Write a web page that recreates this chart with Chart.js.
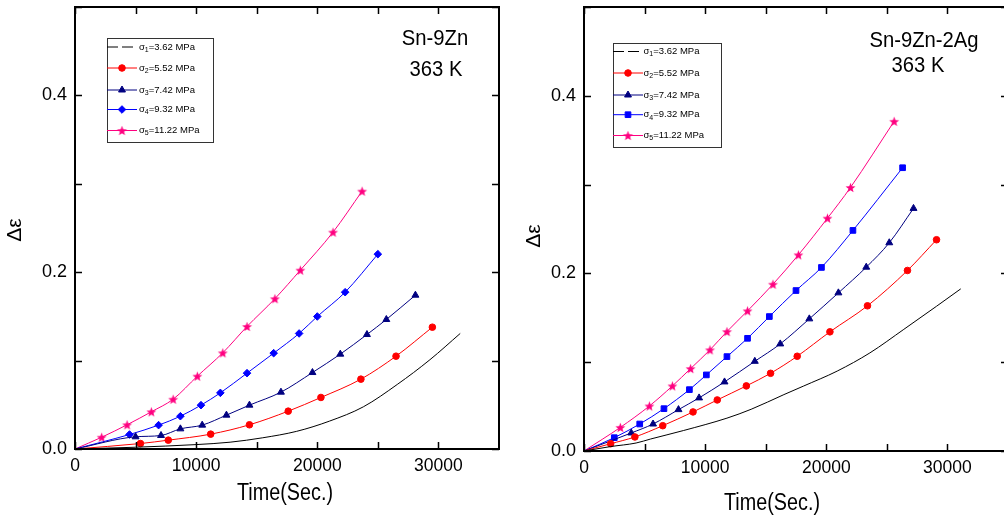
<!DOCTYPE html>
<html><head><meta charset="utf-8">
<script src="https://cdn.jsdelivr.net/npm/chart.js@4/dist/chart.umd.min.js"></script>
<style>
html,body{margin:0;padding:0;background:#fff;overflow:hidden;width:1004px;height:517px;position:relative}
#wl{position:absolute;left:0;top:0;width:500px;height:517px}
#wr{position:absolute;left:500px;top:0;width:520px;height:517px}
canvas{display:block}
</style></head><body>
<div id="wl"><canvas id="cl" width="500" height="517"></canvas></div>
<div id="wr"><canvas id="cr" width="520" height="517"></canvas></div>
<script>
// ---------- text / ticks ----------
const xMajorTicks = [0, 10000, 20000, 30000];
const xTickLabels = ['0', '10000', '20000', '30000'];
const yMajorTicks = [0, 0.2, 0.4];
const yTickLabels = ['0.0', '0.2', '0.4'];
const xTickMarks = [0, 5000, 10000, 15000, 20000, 25000, 30000, 35000];
const yTickMarks = [0, 0.1, 0.2, 0.3, 0.4, 0.5];
const stressValues = ['3.62', '5.52', '7.42', '9.32', '11.22'];
const leftAlloy = 'Sn-9Zn';
const rightAlloy = 'Sn-9Zn-2Ag';
const tempLabel = '363 K';
const xTitle = 'Time(Sec.)';
const yTitle = 'Δε';

// ---------- Sn-9Zn data ----------
const znS1Time   = [0, 5000, 10000, 12800, 15500, 18300, 21000, 23800, 26600, 29300, 31800];
const znS1Strain = [0, 0.002, 0.005, 0.0077, 0.0127, 0.020, 0.0315, 0.0477, 0.073, 0.101, 0.1307];
const znS2Time   = [0, 5400, 7700, 11200, 14400, 17600, 20300, 23600, 26500, 29500];
const znS2Strain = [0, 0.0062, 0.010, 0.0168, 0.0274, 0.0428, 0.0583, 0.079, 0.105, 0.1378];
const znS3Time   = [0, 5000, 7100, 8700, 10500, 12500, 14400, 17000, 19600, 21900, 24100, 25700, 28100];
const znS3Strain = [0, 0.0138, 0.0153, 0.0228, 0.027, 0.0383, 0.0496, 0.0643, 0.0865, 0.1073, 0.1295, 0.1465, 0.174];
const znS4Time   = [0, 4500, 6900, 8700, 10400, 12000, 14200, 16400, 18500, 20000, 22300, 25000];
const znS4Strain = [0, 0.0164, 0.027, 0.0371, 0.0496, 0.0635, 0.0858, 0.1084, 0.1307, 0.1499, 0.1774, 0.2204];
const znS5Time   = [0, 2200, 4300, 6300, 8100, 10100, 12200, 14200, 16500, 18600, 21300, 23700];
const znS5Strain = [0, 0.0133, 0.0274, 0.0421, 0.0563, 0.0824, 0.1088, 0.1386, 0.170, 0.2023, 0.2453, 0.2917];

// ---------- Sn-9Zn-2Ag data ----------
const agS1Time   = [0, 2200, 4300, 5500, 8200, 11800, 13800, 16500, 18100, 20900, 23600, 26400, 29100, 31100];
const agS1Strain = [0, 0.005, 0.009, 0.0135, 0.023, 0.037, 0.047, 0.0635, 0.073, 0.090, 0.1105, 0.137, 0.163, 0.1826];
const agS2Time   = [0, 2200, 4200, 6500, 9000, 11000, 13400, 15400, 17600, 20300, 23400, 26700, 29100];
const agS2Strain = [0, 0.0082, 0.0158, 0.0285, 0.044, 0.0575, 0.0733, 0.0875, 0.1067, 0.1342, 0.1635, 0.2033, 0.2379];
const agS3Time   = [0, 3900, 5700, 7800, 9500, 11600, 14100, 16200, 18600, 21000, 23300, 25200, 27200];
const agS3Strain = [0, 0.0203, 0.0304, 0.0466, 0.0598, 0.0778, 0.101, 0.1206, 0.1488, 0.1781, 0.207, 0.2345, 0.2732];
const agS4Time   = [0, 2500, 4600, 6600, 8700, 10100, 11800, 13500, 15300, 17500, 19600, 22200, 26300];
const agS4Strain = [0, 0.015, 0.0304, 0.0477, 0.0691, 0.0857, 0.1063, 0.1269, 0.1514, 0.1807, 0.2067, 0.2484, 0.319];
const agS5Time   = [0, 3000, 5400, 7300, 8800, 10400, 11800, 13500, 15600, 17700, 20100, 22000, 25600];
const agS5Strain = [0, 0.0266, 0.0507, 0.0733, 0.0928, 0.1139, 0.1345, 0.1578, 0.1878, 0.2209, 0.2622, 0.2968, 0.3712];

// ---------- styling ----------
const FONT = '"Liberation Sans", Arial, Helvetica, sans-serif';
const seriesColors = ['#000000', '#ff0000', '#000080', '#0000ff', '#ff0080'];

function makeStar(color, r) {
  const size = Math.ceil(r * 2 + 2);
  const c = document.createElement('canvas');
  c.width = size; c.height = size;
  const g = c.getContext('2d');
  g.fillStyle = color;
  g.beginPath();
  for (let k = 0; k < 10; k++) {
    const rr = (k % 2) ? r * 0.42 : r;
    const a = -Math.PI / 2 + k * Math.PI / 5;
    g.lineTo(size / 2 + rr * Math.cos(a), size / 2 + rr * Math.sin(a) + 0.5);
  }
  g.closePath(); g.fill();
  return c;
}
const starImg = makeStar('#ff0080', 5.2);

function pts(t, s) { return t.map((x, i) => ({ x: x, y: s[i] })); }

function ds(data, idx, style, radius) {
  const col = seriesColors[idx];
  return {
    data: data,
    borderColor: col, backgroundColor: col,
    pointBackgroundColor: col, pointBorderColor: col,
    borderWidth: 1, pointBorderWidth: 1,
    pointStyle: style,
    pointRadius: (c) => (radius === 0 || (c.raw && c.raw.x === 0)) ? 0 : radius,
    pointHoverRadius: 0,
    cubicInterpolationMode: 'monotone',
    fill: false,
    _legendStyle: style, _legendRadius: radius
  };
}

function drawSigma(ctx, x, y, idx, val) {
  ctx.textAlign = 'left'; ctx.textBaseline = 'middle'; ctx.fillStyle = '#000';
  ctx.font = '9.5px ' + FONT;
  ctx.fillText('σ', x, y);
  let w = ctx.measureText('σ').width;
  ctx.font = '7px ' + FONT;
  ctx.fillText(String(idx), x + w, y + 3);
  w += ctx.measureText(String(idx)).width;
  ctx.font = '9.5px ' + FONT;
  ctx.fillText('=' + val + ' MPa', x + w, y);
}

function drawScaledText(ctx, txt, x, y, size, sx, rot) {
  ctx.save();
  ctx.translate(x, y);
  if (rot) ctx.rotate(rot);
  ctx.scale(sx, 1);
  ctx.font = size + 'px ' + FONT;
  ctx.textAlign = 'center'; ctx.textBaseline = 'middle'; ctx.fillStyle = '#000';
  ctx.fillText(txt, 0, 0);
  ctx.restore();
}

const decoPlugin = {
  id: 'deco',
  afterDraw(chart, args, o) {
    const ctx = chart.ctx;
    const a = chart.chartArea;
    const xs = chart.scales.x, ys = chart.scales.y;
    ctx.save();
    // frame
    ctx.strokeStyle = '#000'; ctx.lineWidth = 2;
    ctx.strokeRect(a.left, a.top, a.right - a.left, a.bottom - a.top);
    // inward ticks
    ctx.lineWidth = 1.5;
    ctx.beginPath();
    xTickMarks.forEach(v => {
      const px = Math.round(xs.getPixelForValue(v)) + 0.5;
      ctx.moveTo(px, a.bottom); ctx.lineTo(px, a.bottom - 7);
      ctx.moveTo(px, a.top); ctx.lineTo(px, a.top + 7);
    });
    yTickMarks.forEach(v => {
      const py = Math.round(ys.getPixelForValue(v)) + 0.5;
      ctx.moveTo(a.left, py); ctx.lineTo(a.left + 7, py);
      ctx.moveTo(a.right, py); ctx.lineTo(a.right - 7, py);
    });
    ctx.stroke();
    // legend
    const L = o.legend;
    ctx.lineWidth = 1; ctx.strokeStyle = '#333';
    ctx.strokeRect(L.x + 0.5, L.y + 0.5, L.w, L.h);
    chart.data.datasets.forEach((d, i) => {
      const y = L.rows[i];
      ctx.strokeStyle = d.borderColor; ctx.fillStyle = d.borderColor; ctx.lineWidth = 1;
      ctx.setLineDash(i === 0 ? [11, 4] : []);
      ctx.beginPath(); ctx.moveTo(L.x0, y); ctx.lineTo(L.x1, y); ctx.stroke();
      ctx.setLineDash([]);
      if (d._legendRadius > 0) {
        Chart.helpers.drawPoint(ctx, { pointStyle: d._legendStyle, radius: d._legendRadius, rotation: 0, borderWidth: 1 }, L.mx, y);
      }
      drawSigma(ctx, L.tx, y, i + 1, stressValues[i]);
    });
    // texts
    drawScaledText(ctx, o.alloy, o.alloyPos[0], o.alloyPos[1], 22, 0.92);
    drawScaledText(ctx, tempLabel, o.tempPos[0], o.tempPos[1], 22, 0.92);
    drawScaledText(ctx, xTitle, o.xTitlePos[0], o.xTitlePos[1], 23, 0.86);
    drawScaledText(ctx, yTitle, o.yTitlePos[0], o.yTitlePos[1], 21, 1, -Math.PI / 2);
    ctx.restore();
  }
};

function zeroPad(s) { s.paddingTop = 0; s.paddingBottom = 0; s.paddingLeft = 0; s.paddingRight = 0; }

function makeChart(id, datasets, lay, deco) {
  return new Chart(document.getElementById(id), {
    type: 'line',
    data: { datasets: datasets },
    plugins: [decoPlugin],
    options: {
      responsive: false, animation: false, devicePixelRatio: 1,
      events: [],
      layout: { padding: lay.padding, autoPadding: false },
      plugins: { legend: { display: false }, tooltip: { enabled: false }, deco: deco },
      scales: {
        x: {
          type: 'linear', min: 0, max: 35000,
          grid: { display: false, drawTicks: false }, border: { display: false },
          afterBuildTicks: (s) => { s.ticks = xMajorTicks.map(v => ({ value: v })); },
          afterFit: (s) => { s.height = lay.xHeight; zeroPad(s); },
          ticks: {
            color: '#000', font: { family: FONT, size: 17.5 }, padding: 7,
            maxRotation: 0, autoSkip: false,
            callback: (v) => { const k = xMajorTicks.indexOf(v); return k >= 0 ? xTickLabels[k] : ''; }
          }
        },
        y: {
          type: 'linear', min: 0, max: 0.5,
          grid: { display: false, drawTicks: false }, border: { display: false },
          afterBuildTicks: (s) => { s.ticks = yMajorTicks.map(v => ({ value: v })); },
          afterFit: (s) => { s.width = lay.yWidth; zeroPad(s); },
          ticks: {
            color: '#000', font: { family: FONT, size: 18 }, padding: 8, autoSkip: false,
            callback: (v) => { const k = yMajorTicks.findIndex(t => Math.abs(t - v) < 1e-9); return k >= 0 ? yTickLabels[k] : ''; }
          }
        }
      }
    }
  });
}

makeChart('cl', [
  ds(pts(znS1Time, znS1Strain), 0, 'line', 0),
  ds(pts(znS2Time, znS2Strain), 1, 'circle', 3.3),
  ds(pts(znS3Time, znS3Strain), 2, 'triangle', 4),
  ds(pts(znS4Time, znS4Strain), 3, 'rectRot', 3.8),
  ds(pts(znS5Time, znS5Strain), 4, starImg, 5)
], { padding: { left: 0, right: 1, top: 7, bottom: 0 }, yWidth: 75, xHeight: 68 }, {
  legend: { x: 107, y: 38, w: 106, h: 104, rows: [47, 68, 90, 109.5, 130.5], x0: 107, x1: 137, mx: 122, tx: 139 },
  alloy: leftAlloy, alloyPos: [435, 39], tempPos: [436, 70],
  xTitlePos: [285, 494], yTitlePos: [15.5, 230]
});

makeChart('cr', [
  ds(pts(agS1Time, agS1Strain), 0, 'line', 0),
  ds(pts(agS2Time, agS2Strain), 1, 'circle', 3.3),
  ds(pts(agS3Time, agS3Strain), 2, 'triangle', 4),
  ds(pts(agS4Time, agS4Strain), 3, 'rect', 4),
  ds(pts(agS5Time, agS5Strain), 4, starImg, 5)
], { padding: { left: 0, right: 12, top: 7, bottom: 0 }, yWidth: 84, xHeight: 66 }, {
  legend: { x: 113, y: 43, w: 108, h: 104, rows: [51.5, 73, 95, 114.7, 135.5], x0: 113, x1: 143, mx: 128, tx: 143.5 },
  alloy: rightAlloy, alloyPos: [424, 41], tempPos: [418, 66],
  xTitlePos: [272, 504], yTitlePos: [34, 236]
});
</script>
</body></html>
